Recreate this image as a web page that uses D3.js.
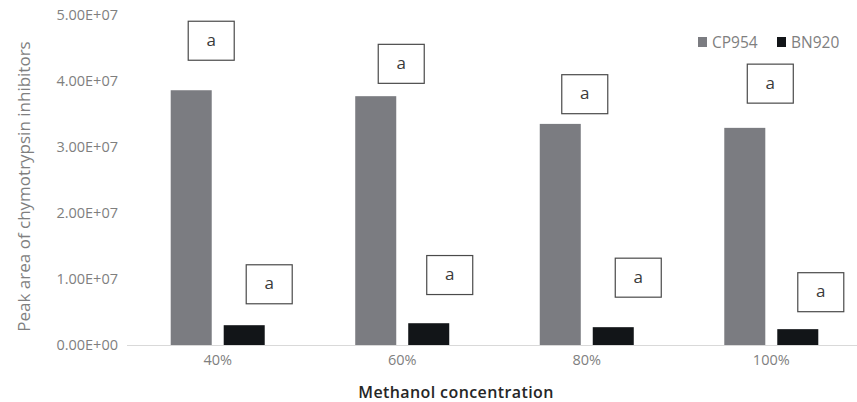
<!DOCTYPE html>
<html><head><meta charset="utf-8">
<script src="https://cdn.jsdelivr.net/npm/d3@7"></script>
<style>body{margin:0;background:#fff}svg{display:block}</style>
</head><body>
<script>
// ---- data ----
const categories = ["40%", "60%", "80%", "100%"];
const seriesNames = ["CP954", "BN920"];
const cp954 = [3.86e7, 3.77e7, 3.35e7, 3.29e7];
const bn920 = [3.0e6, 3.3e6, 2.7e6, 2.4e6];
const yTicks = [0, 1e7, 2e7, 3e7, 4e7, 5e7];
const cpLetters = ["a", "a", "a", "a"];
const bnLetters = ["a", "a", "a", "a"];
// value at which each significance box is centred
const cpLetterAt = [4.61e7, 4.26e7, 3.80e7, 3.96e7];
const bnLetterAt = [0.92e7, 1.06e7, 1.02e7, 0.80e7];

// ---- layout ----
const W = 857, H = 402;
const colors = ["#7b7c81", "#121518"];
const cpBoxDx = [20, 25.5, 24.5, 25.5];
const bnBoxDx = [25, 21, 25, 23];

const svg = d3.select("body").append("svg").attr("width", W).attr("height", H);
const y = d3.scaleLinear().domain([0, 5e7]).range([345, 15]);
const x0 = d3.scaleBand().domain(categories).range([125.5, 863.5]).paddingInner(0.4905).paddingOuter(0.245);
const x1 = d3.scaleBand().domain(seriesNames).range([0, x0.bandwidth()]).paddingInner(0.226);

const font = "'Open Sans', sans-serif";

// y tick labels
svg.append("g").selectAll("text").data(yTicks).join("text")
  .attr("x", 118).attr("y", d => y(d)).attr("dy", "0.36em")
  .attr("text-anchor", "end").attr("font-family", font).attr("font-size", 14.5)
  .attr("fill", "#7f7f7f")
  .text(d => d === 0 ? "0.00E+00" : (d / 1e7).toFixed(2) + "E+07");

// baseline
svg.append("line").attr("x1", 127).attr("x2", 857).attr("y1", y(0) + 0.5).attr("y2", y(0) + 0.5)
  .attr("stroke", "#d9d9d9").attr("stroke-width", 1);

// bars
const rows = categories.map((c, i) => ({ c, i, vals: [cp954[i], bn920[i]] }));
const g = svg.append("g").selectAll("g").data(rows).join("g")
  .attr("transform", d => `translate(${x0(d.c)},0)`);
g.selectAll("rect").data(d => d.vals.map((v, k) => ({ k, v }))).join("rect")
  .attr("x", d => x1(seriesNames[d.k])).attr("width", x1.bandwidth())
  .attr("y", d => y(d.v)).attr("height", d => y(0) - y(d.v))
  .attr("fill", d => colors[d.k]);

// x tick labels
svg.append("g").selectAll("text").data(categories).join("text")
  .attr("x", d => x0(d) + x0.bandwidth() / 2).attr("y", 360).attr("dy", "0.36em")
  .attr("text-anchor", "middle").attr("font-family", font).attr("font-size", 14.5)
  .attr("fill", "#7f7f7f").text(d => d);

// significance boxes
const boxW = 46, boxH = 39;
function boxes(letters, at, dx, k) {
  const gg = svg.append("g").selectAll("g").data(categories).join("g")
    .attr("transform", (c, i) => {
      const cx = x0(c) + x1(seriesNames[k]) + x1.bandwidth() / 2 + dx[i];
      return `translate(${cx},${y(at[i])})`;
    });
  gg.append("rect").attr("x", -boxW / 2).attr("y", -boxH / 2).attr("width", boxW).attr("height", boxH)
    .attr("fill", "#fff").attr("stroke", "#4a4a4a").attr("stroke-width", 1.2);
  gg.append("text").attr("text-anchor", "middle").attr("dy", "0.3em")
    .attr("font-family", font).attr("font-size", 17).attr("fill", "#3a3a3a")
    .text((c, i) => letters[i]);
}
boxes(cpLetters, cpLetterAt, cpBoxDx, 0);
boxes(bnLetters, bnLetterAt, bnBoxDx, 1);

// legend
const leg = svg.append("g").selectAll("g").data(seriesNames).join("g")
  .attr("transform", (d, i) => `translate(${[698, 777][i]},42)`);
leg.append("rect").attr("x", 0).attr("y", -5).attr("width", 9).attr("height", 10).attr("fill", (d, i) => colors[i]);
leg.append("text").attr("x", 14).attr("dy", "0.36em").attr("font-family", font).attr("font-size", 15.5)
  .attr("fill", "#7f7f7f").text(d => d);

// axis titles
svg.append("text").attr("transform", "translate(24,186.5) rotate(-90)")
  .attr("text-anchor", "middle").attr("dy", "0.36em").attr("font-family", font).attr("font-size", 17)
  .attr("fill", "#7f7f7f").text("Peak area of chymotrypsin inhibitors");
svg.append("text").attr("x", 456).attr("y", 392).attr("dy", "0.36em")
  .attr("text-anchor", "middle").attr("font-family", font).attr("font-size", 16).attr("font-weight", 600)
  .attr("letter-spacing", 0.4)
  .attr("fill", "#262626").text("Methanol concentration");
</script>
</body></html>
